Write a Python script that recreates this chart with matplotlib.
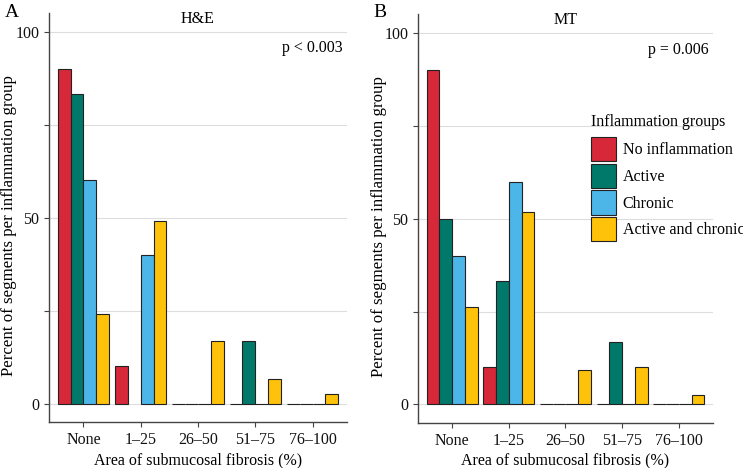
import matplotlib.pyplot as plt
import numpy as np
from matplotlib.patches import Patch

plt.rcParams['font.family'] = ['Liberation Serif', 'DejaVu Serif']

categories = ["None", "1\u201325", "26\u201350", "51\u201375", "76\u2013100"]
groups = ["No inflammation", "Active", "Chronic", "Active and chronic"]
colors = ["#D62839", "#00796B", "#4DB6E8", "#FFC20A"]

# H&E panel (nan = group not present in that category)
he_none_inflam = [90, 10, 0, 0, 0]
he_active = [83.3, np.nan, 0, 16.7, 0]
he_chronic = [60, 40, 0, 0, 0]
he_active_chronic = [24, 49.2, 16.7, 6.5, 2.5]

# MT panel
mt_none_inflam = [90, 10, 0, 0, 0]
mt_active = [50, 33.3, 0, 16.7, 0]
mt_chronic = [40, 60, 0, 0, 0]
mt_active_chronic = [26.2, 51.7, 9.3, 10, 2.4]

yticks = [0, 25, 50, 75, 100]
ytick_labels = ["0", "", "50", "", "100"]

fig = plt.figure(figsize=(7.43, 4.68), dpi=100)
ax_a = fig.add_axes([0.066, 0.098, 0.401, 0.874])
ax_b = fig.add_axes([0.5626, 0.0962, 0.397, 0.873])


def draw_panel(ax, series, title, ptext, ylab_x):
    x = np.arange(1, len(categories) + 1)
    w = 0.9 / 4
    for i, vals in enumerate(series):
        vals = np.array(vals, dtype=float)
        ok = ~np.isnan(vals)
        ax.bar(x[ok] - 0.45 + w * (i + 0.5), vals[ok], w, color=colors[i],
               edgecolor="#222222", linewidth=0.8, zorder=3)
    ax.set_xlim(0.4, 5.6)
    ax.set_ylim(-5, 105)
    ax.set_xticks(x)
    ax.set_xticklabels(categories)
    ax.set_yticks(yticks)
    ax.set_yticklabels(ytick_labels)
    ax.grid(axis='y', color="#DDDDDD", linewidth=0.8, zorder=0)
    for s in ["top", "right"]:
        ax.spines[s].set_visible(False)
    for s in ["left", "bottom"]:
        ax.spines[s].set_color("#444444")
        ax.spines[s].set_linewidth(1.0)
    ax.tick_params(axis='both', colors="#444444", labelcolor="#111111",
                   labelsize=11.5, length=3.5)
    ax.set_xlabel("Area of submucosal fibrosis (%)", fontsize=11.5, labelpad=3)
    ax.set_ylabel("Percent of segments per inflammation group", fontsize=12.2)
    ax.yaxis.set_label_coords(ylab_x, 0.48)
    ax.text(3, 103.5, title, ha='center', va='center', fontsize=11.5)
    ax.text(5.52, 95.5, ptext, ha='right', va='center', fontsize=11.5)


draw_panel(ax_a, [he_none_inflam, he_active, he_chronic, he_active_chronic], "H&E", "p < 0.003", -0.107)
draw_panel(ax_b, [mt_none_inflam, mt_active, mt_chronic, mt_active_chronic], "MT", "p = 0.006", -0.105)

fig.text(0.006, 0.974, "A", fontsize=14, va='center', ha='left')
fig.text(0.502, 0.974, "B", fontsize=14, va='center', ha='left')

handles = [Patch(facecolor=c, edgecolor="#222222", linewidth=0.8) for c in colors]
leg = ax_b.legend(handles, groups, title="Inflammation groups", loc='upper left',
                  bbox_to_anchor=(0.586, 0.756), frameon=False, fontsize=11.5,
                  title_fontsize=11.5, handlelength=1.6, handleheight=1.95,
                  handletextpad=0.4, labelspacing=0.16, borderaxespad=0,
                  borderpad=0)
leg._legend_box.align = "left"
leg._legend_box.sep = 5

plt.savefig("out.png", dpi=100)
